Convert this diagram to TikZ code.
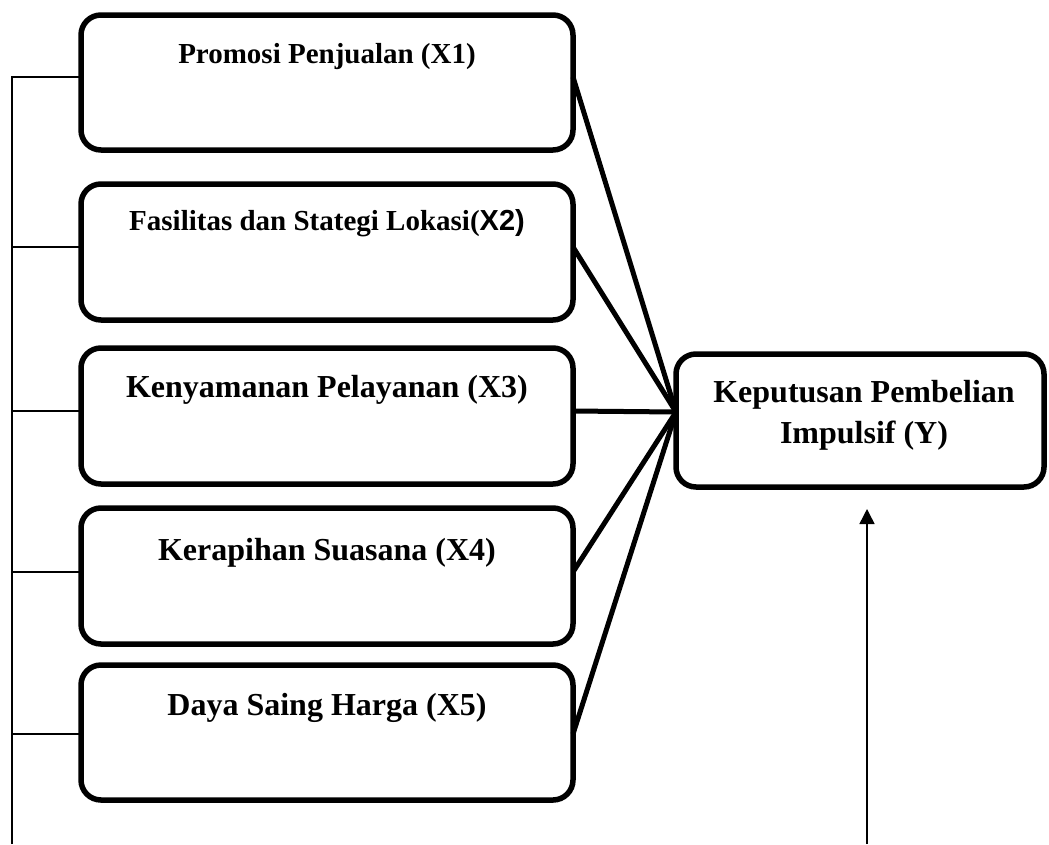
\documentclass[tikz,border=0pt]{standalone}
\usepackage{fontspec}
\setmainfont{Liberation Serif}
\newfontfamily\arialfont{Liberation Sans}
\usetikzlibrary{arrows.meta}
\begin{document}
\begin{tikzpicture}[x=1pt,y=-1pt,
  box/.style={draw, line width=5.5pt, rounded corners=20pt, minimum width=492pt, inner sep=0pt, outer sep=0pt},
  lbl/.style={anchor=base, inner sep=0pt, outer sep=0pt, font=\bfseries\fontsize{32}{38}\selectfont},
  smalllbl/.style={lbl, font=\bfseries\fontsize{29}{35}\selectfont},
  thinln/.style={line width=1.3pt},
  thickln/.style={line width=5pt},
  arrowln/.style={line width=1.5pt, -{Triangle[length=15pt,width=15pt]}}]
\useasboundingbox (0,0) rectangle (1049,844);

% boxes
\node[box, minimum height=135pt] (b1) at (327,82.5) {};
\node[box, minimum height=136pt] (b2) at (327,252) {};
\node[box, minimum height=136pt] (b3) at (327,416) {};
\node[box, minimum height=136pt] (b4) at (327,576) {};
\node[box, minimum height=135pt] (b5) at (327,732.5) {};
\node[box, minimum width=368pt, minimum height=133pt] (Y) at (860,420.5) {};

% texts
\node[smalllbl] (t1) at (327,63) {Promosi Penjualan (X1)};
\node[smalllbl] (t2) at (327,230) {Fasilitas dan Stategi Lokasi(\arialfont X2)};
\node[lbl] (t3) at (327,397) {Kenyamanan Pelayanan (X3)};
\node[lbl] (t4) at (327,560) {Kerapihan Suasana (X4)};
\node[lbl] (t5) at (327,715) {Daya Saing Harga (X5)};
\node[lbl] (ty1) at (864,402) {Keputusan Pembelian};
\node[lbl] (ty2) at (864,443) {Impulsif (Y)};

% left bracket coordinates
\coordinate (l1) at (12,77);
\coordinate (l2) at (12,247);
\coordinate (l3) at (12,411);
\coordinate (l4) at (12,572);
\coordinate (l5) at (12,734);
\coordinate (lb) at (12,844);
\coordinate (ab) at (867,844);
\coordinate (conv) at ([yshift=8.5pt]Y.west);

\draw[thinln] (lb) -- (l1) -- (l1 -| b1.west);
\draw[thinln] (l2) -- (l2 -| b2.west);
\draw[thinln] (l3) -- (l3 -| b3.west);
\draw[thinln] (l4) -- (l4 -| b4.west);
\draw[thinln] (l5) -- (l5 -| b5.west);

% converging lines
\draw[thickln] (l1 -| b1.east) -- (conv);
\draw[thickln] (l2 -| b2.east) -- (conv);
\draw[thickln] (l3 -| b3.east) -- (conv);
\draw[thickln] (l4 -| b4.east) -- (conv);
\draw[thickln] (l5 -| b5.east) -- (conv);

% arrow from below
\draw[arrowln] (ab) -- ([yshift=-22pt]Y.south -| ab);
\end{tikzpicture}
\end{document}
